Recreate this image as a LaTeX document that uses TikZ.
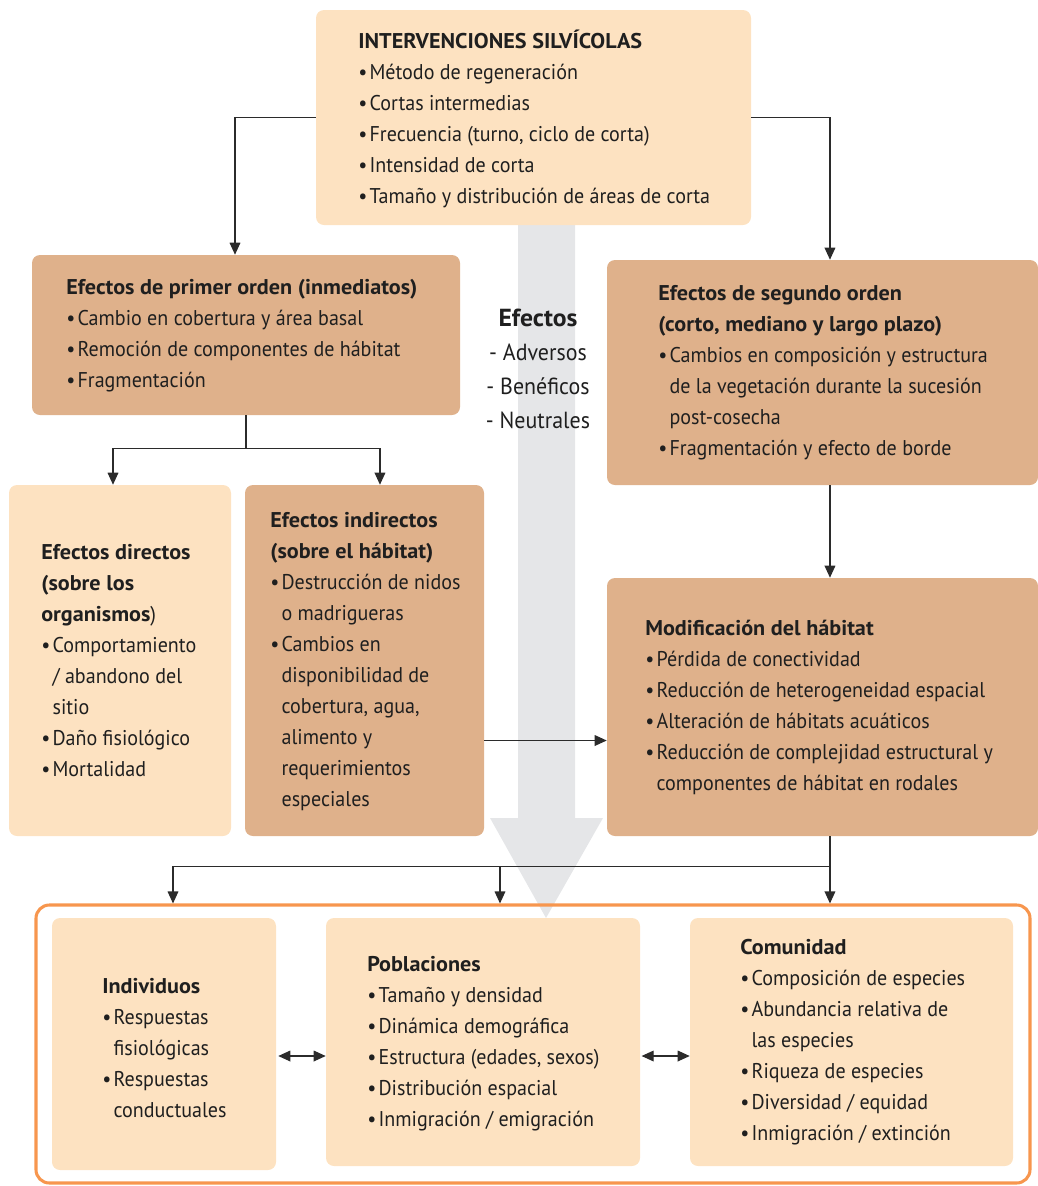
\documentclass[tikz,border=0pt]{standalone}
\usepackage{fontspec}
\setmainfont{PT Sans}[FakeStretch=0.94, BoldFeatures={FakeStretch=1.04}]
\usetikzlibrary{arrows.meta,fit}
\definecolor{lightc}{HTML}{FDE2C1}
\definecolor{darkc}{HTML}{DFB18B}
\definecolor{grayarrow}{HTML}{E5E6E8}
\definecolor{orangeb}{HTML}{F7964E}
\definecolor{linec}{HTML}{2B2B2B}
\newcommand{\bl}{\makebox[8.5pt][l]{•}}
\newcommand{\ind}{\hspace*{8.5pt}}
\tikzset{
  lightbox/.style={fill=lightc, rounded corners=6pt, inner sep=0pt},
  darkbox/.style={fill=darkc, rounded corners=6pt, inner sep=0pt},
  txt/.style={anchor=north west, inner sep=0pt, align=left, text=black!88,
    font=\fontsize{16}{23.25}\selectfont},
  conn/.style={draw=linec, line width=0.9pt, -{Triangle[length=9pt,width=8pt]}},
  plainline/.style={draw=linec, line width=0.9pt},
  dconn/.style={draw=linec, line width=0.9pt, {Triangle[length=9pt,width=8pt]}-{Triangle[length=9pt,width=8pt]}},
}
\begin{document}
\begin{tikzpicture}[x=0.75pt,y=-0.75pt]
\useasboundingbox (0,0) rectangle (1038,1186);
% big gray arrow
\fill[grayarrow] (518,225) -- (575,225) -- (575,818) -- (603,818) -- (546,918) -- (490,818) -- (518,818) -- cycle;
% boxes
\node[lightbox, fit={(316,10)(751,225)}] (top) {};
\node[darkbox, fit={(32,255)(460,415)}] (prim) {};
\node[darkbox, fit={(607,260)(1038,485)}] (seg) {};
\node[lightbox, fit={(9,485)(231,836)}] (dir) {};
\node[darkbox, fit={(245,485)(484,836)}] (indi) {};
\node[darkbox, fit={(607,578)(1038,836)}] (mod) {};
\node[draw=orangeb, line width=2.3pt, rounded corners=10pt, inner sep=0pt, fit={(36,905)(1030,1183)}] (cont) {};
\node[lightbox, fit={(52,918)(276,1170)}] (indiv) {};
\node[lightbox, fit={(326,918)(640,1166)}] (pobl) {};
\node[lightbox, fit={(690,918)(1013,1166)}] (comu) {};
% texts
\node[txt] (ttop) at (358,27) {\strut\textbf{INTERVENCIONES SILVÍCOLAS}\\
\bl Método de regeneración\\
\bl Cortas intermedias\\
\bl Frecuencia (turno, ciclo de corta)\\
\bl Intensidad de corta\\
\bl Tamaño y distribución de áreas de corta};
\node[txt] (tprim) at (66,273) {\strut\textbf{Efectos de primer orden (inmediatos)}\\
\bl Cambio en cobertura y área basal\\
\bl Remoción de componentes de hábitat\\
\bl Fragmentación};
\node[txt, anchor=north, align=center, font=\fontsize{17.5}{25.3}\selectfont] (tefe) at (538,303) {\strut{\fontsize{18.5}{25.3}\selectfont\textbf{Efectos}}\\
- Adversos\\
- Benéficos\\
- Neutrales};
\node[txt] (tseg) at (658,279) {\strut\textbf{Efectos de segundo orden}\\
\textbf{(corto, mediano y largo plazo)}\\
\bl Cambios en composición y estructura\\
\ind de la vegetación durante la sucesión\\
\ind post-cosecha\\
\bl Fragmentación y efecto de borde};
\node[txt] (tdir) at (41,538) {\strut\textbf{Efectos directos}\\
\textbf{(sobre los}\\
\textbf{organismos})\\
\bl Comportamiento\\
\ind / abandono del\\
\ind sitio\\
\bl Daño fisiológico\\
\bl Mortalidad};
\node[txt] (tind) at (270,506) {\strut\textbf{Efectos indirectos}\\
\textbf{(sobre el hábitat)}\\
\bl Destrucción de nidos\\
\ind o madrigueras\\
\bl Cambios en\\
\ind disponibilidad de\\
\ind cobertura, agua,\\
\ind alimento y\\
\ind requerimientos\\
\ind especiales};
\node[txt] (tmod) at (645,614) {\strut\textbf{Modificación del hábitat}\\
\bl Pérdida de conectividad\\
\bl Reducción de heterogeneidad espacial\\
\bl Alteración de hábitats acuáticos\\
\bl Reducción de complejidad estructural y\\
\ind componentes de hábitat en rodales};
\node[txt] (tindiv) at (102,972) {\strut\textbf{Individuos}\\
\bl Respuestas\\
\ind fisiológicas\\
\bl Respuestas\\
\ind conductuales};
\node[txt] (tpobl) at (367,950) {\strut\textbf{Poblaciones}\\
\bl Tamaño y densidad\\
\bl Dinámica demográfica\\
\bl Estructura (edades, sexos)\\
\bl Distribución espacial\\
\bl Inmigración / emigración};
\node[txt] (tcomu) at (740,933) {\strut\textbf{Comunidad}\\
\bl Composición de especies\\
\bl Abundancia relativa de\\
\ind las especies\\
\bl Riqueza de especies\\
\bl Diversidad / equidad\\
\bl Inmigración / extinción};
% connectors
\draw[conn] (top.west) -| ([xshift=-8.25pt]prim.north);
\draw[conn] (top.east) -| ([xshift=5.6pt]seg.north);
\coordinate (split1) at ([yshift=-24.75pt]prim.south);
\draw[plainline] (prim.south) -- (split1);
\draw[conn] (split1) -| ([xshift=-5.25pt]dir.north);
\draw[conn] (split1) -| ([xshift=11.6pt]indi.north);
\draw[conn] ([xshift=5.6pt]seg.south) -- ([xshift=5.6pt]mod.north);
\draw[conn] ([yshift=-60pt]indi.east) -- ([yshift=-60pt]indi.east -| mod.west);
\coordinate (split2) at ([xshift=5.6pt,yshift=-22.5pt]mod.south);
\draw[plainline] ([xshift=5.6pt]mod.south) -- (split2);
\draw[conn] (split2) -| ([xshift=-270pt]cont.north);
\draw[conn] (split2) -| ([xshift=-24.75pt]cont.north);
\draw[conn] (split2) -- (split2 |- cont.north);
\draw[dconn] ([xshift=1.5pt,yshift=-9pt]indiv.east) -- ([yshift=-9pt]indiv.east -| pobl.west);
\draw[dconn] ([xshift=1pt,yshift=-10.5pt]pobl.east) -- ([yshift=-10.5pt]pobl.east -| comu.west);
\end{tikzpicture}
\end{document}
